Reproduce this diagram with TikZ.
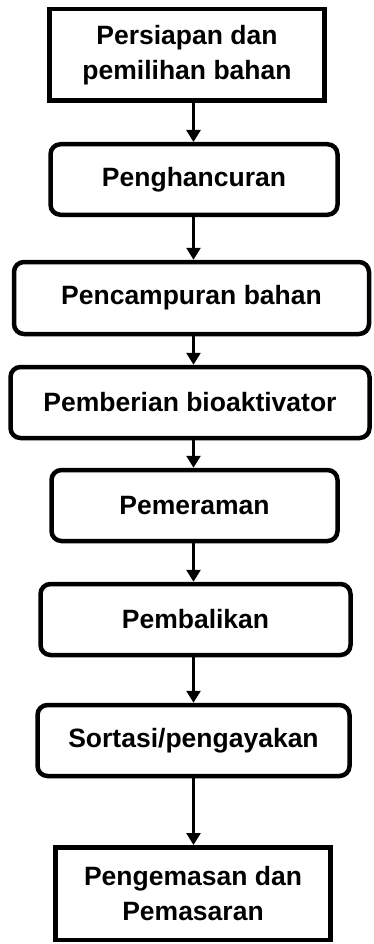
\documentclass[tikz,border=0pt]{standalone}
\usepackage{fontspec}
\setmainfont{Liberation Sans}
\usetikzlibrary{arrows.meta}
\begin{document}
\begin{tikzpicture}[x=1pt,y=-1pt,
  box/.style={draw, line width=4.5pt, align=center, inner sep=0pt,
    font=\fontsize{26.5}{35}\selectfont\bfseries},
  rbox/.style={box, rounded corners=10pt},
  arr/.style={line width=2.7pt, -{Triangle[length=12pt,width=14pt]}}]
\useasboundingbox (0,0) rectangle (373,944);
\node[box, minimum width=275pt, minimum height=91.5pt] (b1) at (187,55) {Persiapan dan\\pemilihan bahan};
\node[rbox, minimum width=287pt, minimum height=70.5pt] (b2) at (194,179.5) {Penghancuran};
\node[rbox, minimum width=355pt, minimum height=72pt] (b3) at (191.5,298) {Pencampuran bahan};
\node[rbox, minimum width=359pt, minimum height=71pt] (b4) at (190,402.5) {Pemberian bioaktivator};
\node[rbox, minimum width=286pt, minimum height=71pt] (b5) at (194.5,505.5) {Pemeraman};
\node[rbox, minimum width=310pt, minimum height=71pt] (b6) at (195.5,619.5) {Pembalikan};
\node[rbox, minimum width=312pt, minimum height=71pt] (b7) at (193.5,740.5) {Sortasi/pengayakan};
\node[box, minimum width=275pt, minimum height=92.5pt] (b8) at (193,893.5) {Pengemasan dan\\Pemasaran};
\coordinate (ax) at (193.5,0);
\foreach \a/\b in {b1/b2,b2/b3,b3/b4,b4/b5,b5/b6,b6/b7,b7/b8}
  \draw[arr] (\a.south -| ax) -- (\b.north -| ax);
\end{tikzpicture}
\end{document}
